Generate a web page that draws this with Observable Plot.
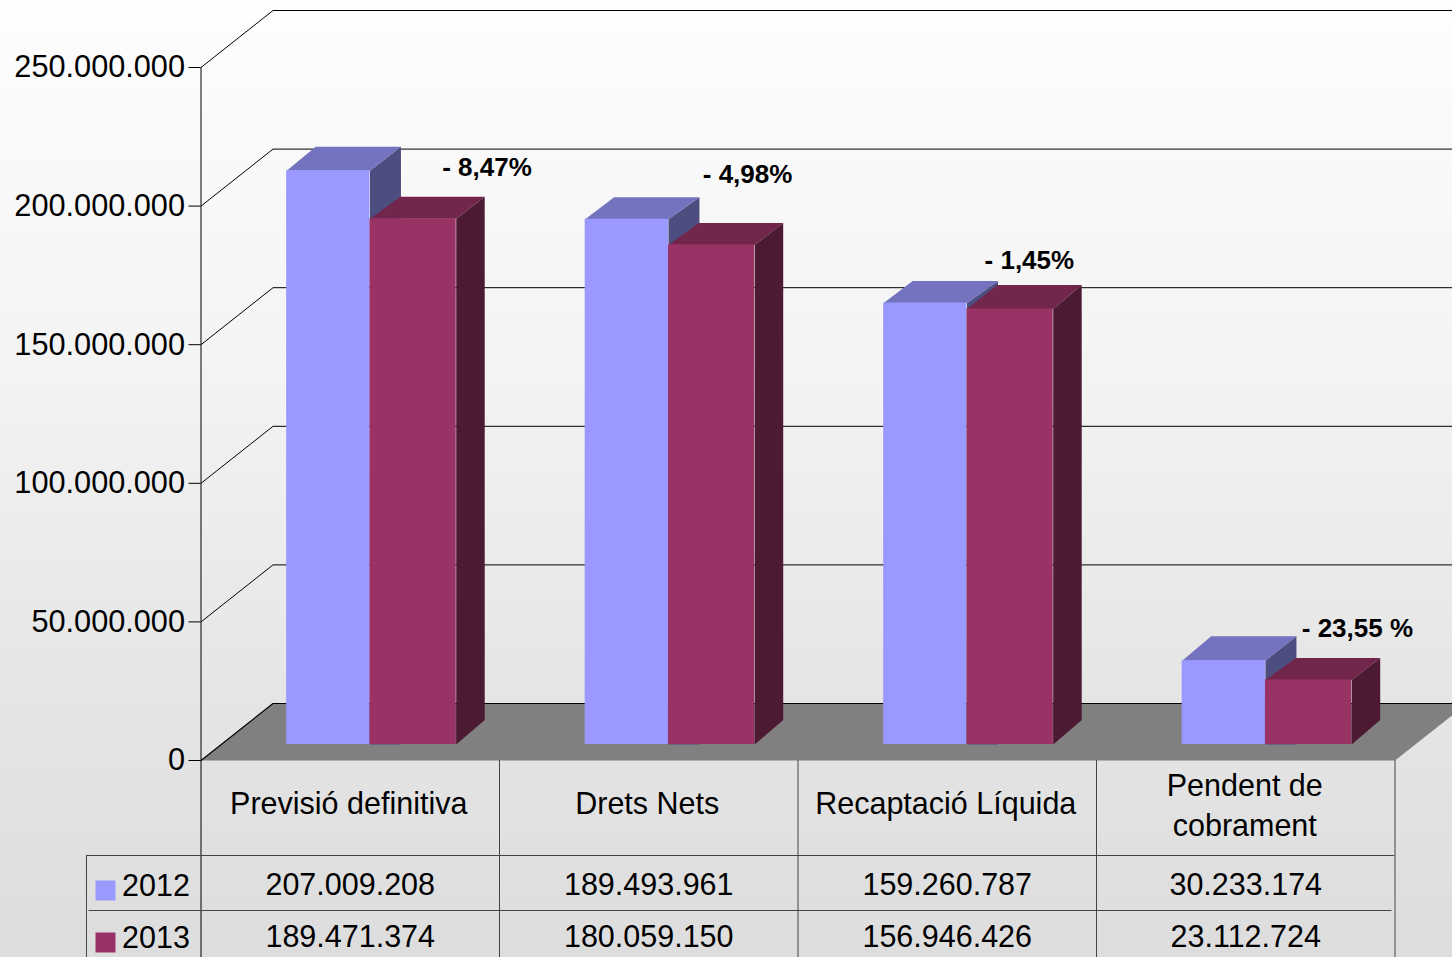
<!DOCTYPE html>
<html>
<head>
<meta charset="utf-8">
<script src="https://cdn.jsdelivr.net/npm/d3@7"></script>
<script src="https://cdn.jsdelivr.net/npm/@observablehq/plot@0.6"></script>
<style>html,body{margin:0;padding:0;overflow:hidden;background:#e0e0e0}</style>
</head>
<body>
<div id="chart"></div>
<script>
const categories = ["Previsió definitiva", "Drets Nets", "Recaptació Líquida", "Pendent de\ncobrament"];
const years = ["2012", "2013"];
const values2012 = [207009208, 189493961, 159260787, 30233174];
const values2013 = [189471374, 180059150, 156946426, 23112724];
const changeLabels = ["- 8,47%", "- 4,98%", "- 1,45%", "- 23,55 %"];
const yTicks = [0, 50000000, 100000000, 150000000, 200000000, 250000000];
const colors2012 = {front: "#9999ff", top: "#7373bf", side: "#4d4d80"};
const colors2013 = {front: "#993366", top: "#73264c", side: "#4c1a33"};

// label anchors, in scale units
const noteX = [0.958, 1.831, 2.775, 3.874];
const noteY = [213900000, 211400000, 180400000, 47600000];

// layout of the pseudo-3D box, in scale units
const pxV = 250000000 / 693, pxX = 298.5;
const wallDX = 72 / pxX, wallDV = 57 * pxV;
const barLift = 16 * pxV;
const slot = {left: 0.287, mid: 0.566, right: 0.855};
const farX = 4.4;
const tableBottomV = -197 * pxV;
const depth2012 = [24, 22, 22, 24.5];
const depth2013 = [22, 22, 24, 22];

const fmt = d3.formatLocale({decimal: ",", thousands: ".", grouping: [3], currency: ["", ""]}).format(",d");

const poly = (id, fill, pts) => pts.map(([x, y]) => ({id, fill, x, y}));
const faces = [];
const faces2 = [];
categories.forEach((c, i) => {
  const l = i + slot.left, m = i + slot.mid, r = i + slot.right;
  const a = values2012[i] + barLift, b = values2013[i] + barLift + 0.5 * pxV;
  const dvA = depth2012[i] * pxV, dvB = depth2013[i] * pxV;
  faces.push(...poly(`a-side-${i}`, colors2012.side, [[m, a], [m + 31 / pxX, a + dvA], [m + 31 / pxX, barLift], [m, barLift]]));
  faces.push(...poly(`a-top-${i}`, colors2012.top, [[l, a], [m, a], [m + 31 / pxX, a + dvA], [l + 29 / pxX, a + dvA]]));
  faces2.push(...poly(`b-top-${i}`, colors2013.top, [[m, b], [r, b], [r + 28.5 / pxX, b + dvB], [m + 30.5 / pxX, b + dvB]]));
  faces2.push(...poly(`b-side-${i}`, colors2013.side, [[r, b], [r + 28.5 / pxX, b + dvB], [r + 28.5 / pxX, barLift + 24.5 * pxV], [r, barLift]]));
});

const floor = poly("floor", "#808080", [[0, 0], [wallDX, wallDV], [farX, wallDV], [4 + wallDX, wallDV], [4, 0]]);
const grid = yTicks.flatMap(v => [{v, x: 0, y: v}, {v, x: wallDX, y: v + wallDV}, {v, x: farX, y: v + wallDV}]);
const idx = categories.map((c, i) => i);
const font = "Liberation Sans, Arial, sans-serif";
const tableText = {fontSize: 30.5, fill: "#000", textAnchor: "middle", lineAnchor: "middle"};

const chart = Plot.plot({
  width: 1452,
  height: 957,
  marginLeft: 200.5,
  marginRight: 57.5,
  marginTop: 67,
  marginBottom: 197,
  x: {type: "linear", domain: [0, 4], axis: null},
  y: {type: "linear", domain: [0, 250000000], axis: null},
  style: {background: "linear-gradient(#ffffff 0%, #fcfcfc 5%, #f3f3f3 40%, #e6e6e6 70%, #dddddd 100%)", fontFamily: font, overflow: "hidden"},
  marks: [
    // back wall and floor
    Plot.line(grid.filter(d => d.v > 0), {x: "x", y: "y", z: "v", stroke: "#000", strokeWidth: 1}),
    Plot.line(floor, {x: "x", y: "y", z: "id", fill: "fill", stroke: "none"}),
    Plot.line(grid.filter(d => d.v === 0), {x: "x", y: "y", stroke: "#000", strokeWidth: 1.2}),
    // 2012 bars
    Plot.line(faces, {x: "x", y: "y", z: "id", fill: "fill", stroke: "none"}),
    Plot.rect(idx, {x1: i => i + slot.left, x2: i => i + slot.mid, y1: barLift, y2: i => values2012[i] + barLift, fill: colors2012.front}),
    // 2013 bars
    Plot.line(faces2, {x: "x", y: "y", z: "id", fill: "fill", stroke: "none"}),
    Plot.rect(idx, {x1: i => i + slot.mid, x2: i => i + slot.right, y1: barLift, y2: i => values2013[i] + barLift + 0.5 * pxV, fill: colors2013.front}),
    // change labels
    Plot.text(idx, {x: i => noteX[i], y: i => noteY[i], text: i => changeLabels[i], fontSize: 26, fontWeight: "bold", fill: "#000"}),
    // value axis
    Plot.axisY({ticks: yTicks, tickFormat: fmt, tickSize: 12, tickPadding: 4, fontSize: 30.7, color: "#000", label: null}),
    // data table
    Plot.ruleX([0], {y1: tableBottomV, y2: 250000000, stroke: "#000", strokeWidth: 1}),
    Plot.ruleX([1, 2, 3, 4], {y1: tableBottomV, y2: 0, stroke: "#444", strokeWidth: 1}),
    Plot.ruleX([-114.5 / pxX], {y1: tableBottomV, y2: -95 * pxV, stroke: "#444", strokeWidth: 1}),
    Plot.ruleY([-95 * pxV], {x1: -114.5 / pxX, x2: 4, stroke: "#444", strokeWidth: 1}),
    Plot.ruleY([-150 * pxV], {x1: -112 / pxX, x2: 3.99, stroke: "#444", strokeWidth: 1}),
    Plot.text(idx.slice(0, 3), {x: i => i + 0.5, y: 0, dy: 44, dx: -1.5, text: i => categories[i], ...tableText}),
    Plot.text(idx.slice(3), {x: i => i + 0.5, y: 0, dy: 43, dx: -1, text: i => categories[i], lineHeight: 1.31, ...tableText}),
    Plot.text(idx, {x: i => i + 0.5, y: 0, dy: 125, dx: 0, text: i => fmt(values2012[i]), ...tableText}),
    Plot.text(idx, {x: i => i + 0.5, y: 0, dy: 177, dx: 0, text: i => fmt(values2013[i]), ...tableText}),
    // legend keys
    Plot.dot([years[0]], {x: -95.5 / pxX, y: 0, dy: 130, symbol: "square", r: 11.28, fill: colors2012.front}),
    Plot.dot([years[1]], {x: -95.5 / pxX, y: 0, dy: 182, symbol: "square", r: 11.28, fill: colors2013.front}),
    Plot.text([years[0]], {x: -45 / pxX, y: 0, dy: 126, text: d => d, fontSize: 30.5, fill: "#000"}),
    Plot.text([years[1]], {x: -45 / pxX, y: 0, dy: 178, text: d => d, fontSize: 30.5, fill: "#000"})
  ]
});
document.getElementById("chart").appendChild(chart);
</script>
</body>
</html>
